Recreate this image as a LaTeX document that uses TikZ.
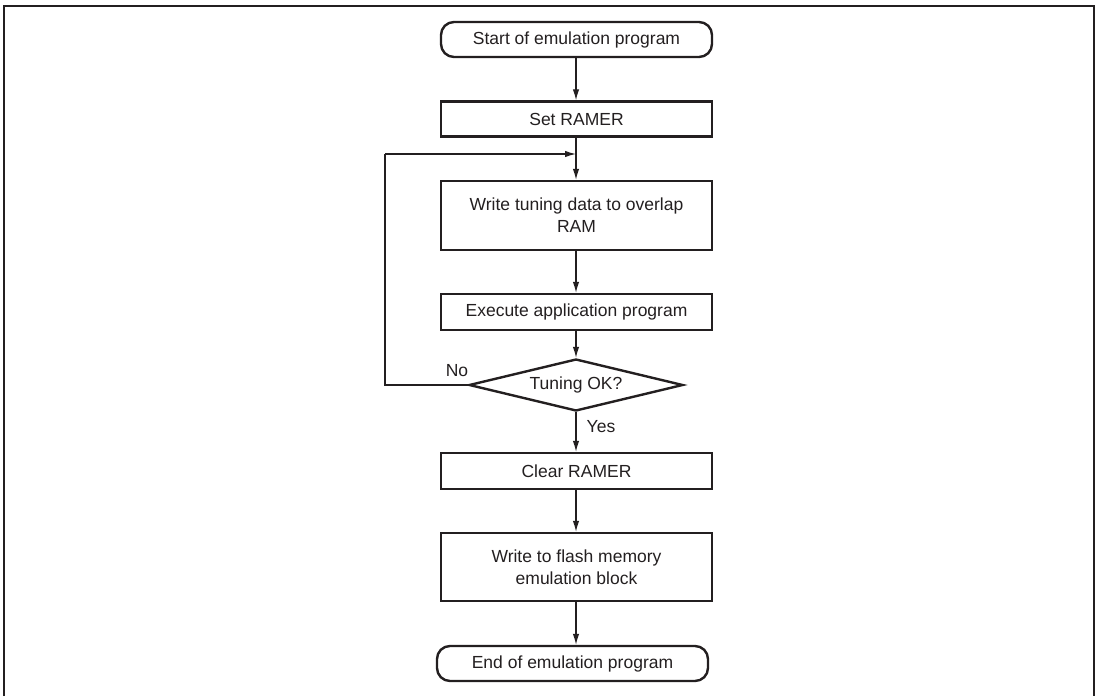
\documentclass[tikz,border=0pt]{standalone}
\usepackage{fontspec}
\setmainfont{Liberation Sans}
\usetikzlibrary{arrows.meta,shapes.geometric}
\definecolor{ink}{HTML}{231F20}
\begin{document}
\begin{tikzpicture}[x=1pt,y=-1pt,
  every node/.style={font=\fontsize{17.5}{22}\selectfont, text=ink},
  procbox/.style={draw=ink, line width=2.4pt, minimum width=271pt, inner sep=0pt, align=center},
  termbox/.style={procbox, rounded corners=13pt, minimum height=35pt},
  decbox/.style={draw=ink, line width=2.4pt, diamond, aspect=4.1, minimum width=214pt, minimum height=52pt, inner sep=0pt},
  flow/.style={draw=ink, line width=1.2pt, -{Latex[length=11pt,width=6.5pt]}},
  plain/.style={draw=ink, line width=1.2pt}]
\useasboundingbox (0,0) rectangle (1100,696);
\draw[ink, line width=2.6pt] (4,696) -- (4,6) -- (1094,6) -- (1094,696);

\node[termbox] (start) at (576.5,39.5) {Start of emulation program};
\node[procbox, minimum height=35pt] (set) at (576.5,119) {Set RAMER};
\node[procbox, minimum height=69pt] (tune) at (576.5,215.5) {Write tuning data to overlap\\RAM};
\node[procbox, minimum height=36pt] (exec) at (576.5,312) {Execute application program};
\node[decbox] (ok) at (576,385) {Tuning OK?};
\node[procbox, minimum height=36pt] (clear) at (576.5,471) {Clear RAMER};
\node[procbox, minimum height=68pt] (flash) at (576.5,567) {Write to flash memory\\emulation block};
\node[termbox, minimum width=271pt] (end) at (572.5,663.5) {End of emulation program};

\coordinate (join) at (576,154);
\coordinate (lb) at (385,385);
\coordinate (lt) at (385,154);

\path[flow] (start.south -| join) -- (set.north -| join);
\path[flow] (set.south -| join) -- (tune.north -| join);
\path[plain] (ok.west) -- (lb) -- (lt);
\path[flow] (lt) -- (join);
\path[flow] (tune.south -| join) -- (exec.north -| join);
\path[flow] (exec.south -| join) -- (ok.north);
\path[flow] (ok.south) -- (clear.north -| join);
\path[flow] (clear.south -| join) -- (flash.north -| join);
\path[flow] (flash.south -| join) -- (end.north -| join);

\node (no) at (457,371) {No};
\node (yes) at (601,427) {Yes};
\end{tikzpicture}
\end{document}
